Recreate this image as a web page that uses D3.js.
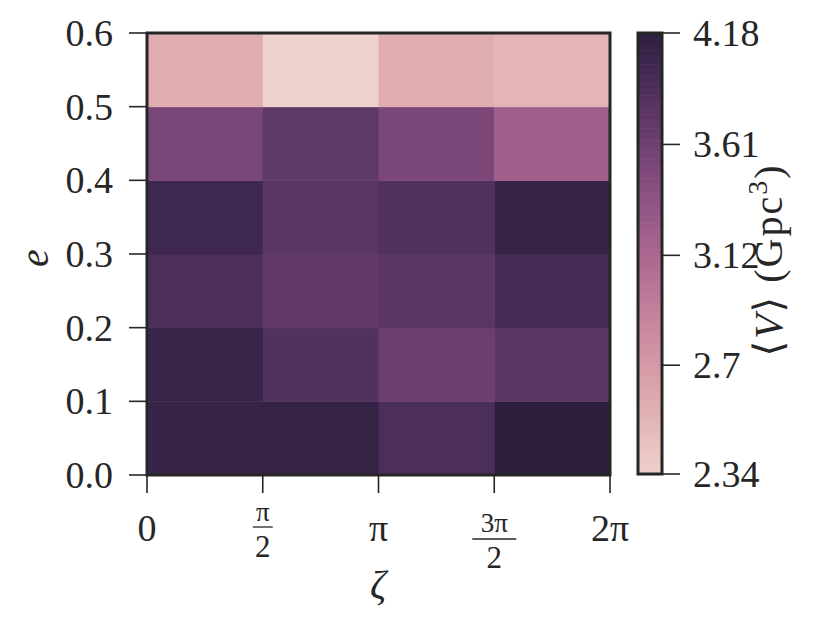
<!DOCTYPE html>
<html>
<head>
<meta charset="utf-8">
<script src="https://cdn.jsdelivr.net/npm/d3@7"></script>
<style>
  body { margin: 0; background: #fff; }
  svg { display: block; }
  text { font-family: "Liberation Serif", "DejaVu Serif", serif; fill: #262626; }
</style>
</head>
<body>
<svg width="830" height="623"></svg>
<script>
// bin edges
const zetaEdges = [0, Math.PI / 2, Math.PI, 3 * Math.PI / 2, 2 * Math.PI];
const eEdges = [0, 0.1, 0.2, 0.3, 0.4, 0.5, 0.6];

// <V> in Gpc^3, one row per e bin (bottom to top), one value per zeta bin
const vRows = [
  [4.08, 4.10, 3.90, 4.18],
  [4.06, 3.85, 3.64, 3.77],
  [3.90, 3.72, 3.77, 3.94],
  [4.01, 3.77, 3.85, 4.08],
  [3.53, 3.74, 3.51, 3.21],
  [2.57, 2.34, 2.57, 2.51]
];

const yTicks = [0, 0.1, 0.2, 0.3, 0.4, 0.5, 0.6];
const xTicks = [
  { v: 0, num: '0' },
  { v: Math.PI / 2, num: 'π', den: '2' },
  { v: Math.PI, num: 'π' },
  { v: 3 * Math.PI / 2, num: '3π', den: '2' },
  { v: 2 * Math.PI, num: '2π' }
];
const cbTicks = [2.34, 2.7, 3.12, 3.61, 4.18];
const cbLabels = ['2.34', '2.7', '3.12', '3.61', '4.18'];

// seaborn cubehelix_palette(as_cmap=True) defaults
function cubehelix(t) {
  const light = 0.85, dark = 0.15, hue = 0.8, rot = 0.4, start = 0;
  const x = light + (dark - light) * t;
  const a = hue * x * (1 - x) / 2;
  const phi = 2 * Math.PI * (start / 3 + rot * x);
  const ch = (p0, p1) => Math.max(0, Math.min(1, x + a * (p0 * Math.cos(phi) + p1 * Math.sin(phi))));
  const r = ch(-0.14861, 1.78277), g = ch(-0.29227, -0.90649), b = ch(1.97294, 0);
  return d3.rgb(r * 255, g * 255, b * 255).formatHex();
}

const svg = d3.select('svg');
const dark = '#262626';

const x = d3.scaleLinear().domain([0, 2 * Math.PI]).range([147, 610]);
const y = d3.scaleLinear().domain([0, 0.6]).range([475, 33]);
const norm = d3.scaleLog().domain([2.34, 4.18]).range([0, 1]).clamp(true);
const color = v => cubehelix(norm(v));

// heatmap cells
const cells = [];
vRows.forEach((row, i) => row.forEach((v, j) => cells.push({ i, j, v })));
svg.append('g')
  .selectAll('rect')
  .data(cells)
  .join('rect')
  .attr('x', d => x(zetaEdges[d.j]))
  .attr('y', d => y(eEdges[d.i + 1]))
  .attr('width', d => x(zetaEdges[d.j + 1]) - x(zetaEdges[d.j]) + 0.5)
  .attr('height', d => y(eEdges[d.i]) - y(eEdges[d.i + 1]) + 0.5)
  .attr('fill', d => color(d.v));

// frame
svg.append('rect')
  .attr('x', x(0)).attr('y', y(0.6))
  .attr('width', x(2 * Math.PI) - x(0)).attr('height', y(0) - y(0.6))
  .attr('fill', 'none').attr('stroke', dark).attr('stroke-width', 3);

// y axis ticks
const yAx = svg.append('g');
yAx.selectAll('line').data(yTicks).join('line')
  .attr('x1', x(0) - 18).attr('x2', x(0))
  .attr('y1', d => y(d)).attr('y2', d => y(d))
  .attr('stroke', dark).attr('stroke-width', 1.6);
yAx.selectAll('text').data(yTicks).join('text')
  .attr('x', x(0) - 34).attr('y', d => y(d))
  .attr('dy', '0.34em').attr('text-anchor', 'end')
  .style('font-size', '38px')
  .text(d => d.toFixed(1));

// x axis ticks
const xAx = svg.append('g');
xAx.selectAll('line').data(xTicks).join('line')
  .attr('x1', d => x(d.v)).attr('x2', d => x(d.v))
  .attr('y1', y(0)).attr('y2', y(0) + 18)
  .attr('stroke', dark).attr('stroke-width', 1.6);
const xl = xAx.selectAll('g').data(xTicks).join('g')
  .attr('transform', d => `translate(${x(d.v)},0)`);
xl.filter(d => !d.den).append('text')
  .attr('y', 541).attr('text-anchor', 'middle')
  .style('font-size', '38px')
  .text(d => d.num);
const fr = xl.filter(d => d.den);
fr.append('text')
  .attr('y', d => d.num === 'π' ? 521 : 532).attr('text-anchor', 'middle')
  .style('font-size', '27px')
  .text(d => d.num);
fr.append('line')
  .attr('x1', d => d.num === 'π' ? -10 : -22).attr('x2', d => d.num === 'π' ? 10 : 22)
  .attr('y1', d => d.num === 'π' ? 527 : 539).attr('y2', d => d.num === 'π' ? 527 : 539)
  .attr('stroke', dark).attr('stroke-width', 1.3);
fr.append('text')
  .attr('y', d => d.num === 'π' ? 557 : 568).attr('text-anchor', 'middle')
  .style('font-size', '31px')
  .text(d => d.den);

// axis labels
svg.append('text')
  .attr('x', 378).attr('y', 598).attr('text-anchor', 'middle')
  .style('font-size', '40px').style('font-style', 'italic')
  .text('ζ');
svg.append('text')
  .attr('transform', 'translate(48,258) rotate(-90)')
  .attr('text-anchor', 'middle')
  .style('font-size', '40px').style('font-style', 'italic')
  .text('e');

// colorbar
const cbX = 638, cbW = 24;
const cbY = d3.scaleLog().domain([2.34, 4.18]).range([474, 33]);
const steps = d3.range(256).map(k => k / 255);
svg.append('g')
  .selectAll('rect')
  .data(steps.slice(0, -1))
  .join('rect')
  .attr('x', cbX)
  .attr('y', (d, k) => 474 - (k + 1) * (441 / 255))
  .attr('width', cbW)
  .attr('height', 441 / 255 + 0.6)
  .attr('fill', d => cubehelix(d + 0.5 / 255));
svg.append('rect')
  .attr('x', cbX).attr('y', 33).attr('width', cbW).attr('height', 441)
  .attr('fill', 'none').attr('stroke', dark).attr('stroke-width', 3);
const cbAx = svg.append('g');
cbAx.selectAll('line').data(cbTicks).join('line')
  .attr('x1', cbX + cbW).attr('x2', cbX + cbW + 18)
  .attr('y1', d => cbY(d)).attr('y2', d => cbY(d))
  .attr('stroke', dark).attr('stroke-width', 1.6);
cbAx.selectAll('text').data(cbTicks).join('text')
  .attr('x', 693).attr('y', d => cbY(d))
  .attr('dy', '0.34em')
  .style('font-size', '38px')
  .text((d, k) => cbLabels[k]);
const cbLabel = svg.append('text')
  .attr('transform', 'translate(782,260) rotate(-90)')
  .attr('text-anchor', 'middle')
  .style('font-size', '40px')
  .style('letter-spacing', '2px');
cbLabel.append('tspan').text('⟨');
cbLabel.append('tspan').style('font-style', 'italic').text('V');
cbLabel.append('tspan').text('⟩ (Gpc');
cbLabel.append('tspan').attr('dy', -15).style('font-size', '28px').text('3');
cbLabel.append('tspan').attr('dy', 15).text(')');
</script>
</body>
</html>
